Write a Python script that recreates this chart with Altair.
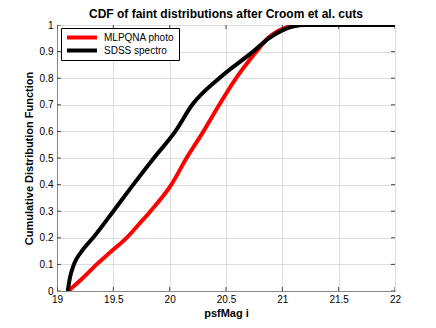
import altair as alt
import pandas as pd

sdss_mag = [19.095, 19.115, 19.15, 19.22, 19.32, 19.5, 19.677, 19.86,
            20.05, 20.2, 20.44, 20.74, 20.88, 21.0, 21.1, 21.2, 21.5, 22.0]
sdss_cdf = [0.0, 0.05, 0.10, 0.15, 0.20, 0.30, 0.40, 0.50,
            0.60, 0.70, 0.80, 0.90, 0.95, 0.98, 0.995, 1.0, 1.0, 1.0]

mlpqna_mag = [19.10, 19.22, 19.352, 19.485, 19.618, 19.725, 19.83, 20.015, 20.15, 20.3, 20.44,
              20.59, 20.77, 20.87, 20.95, 21.05, 21.15, 21.3, 22.0]
mlpqna_cdf = [0.0, 0.045, 0.10, 0.15, 0.20, 0.25, 0.30, 0.40, 0.50, 0.60, 0.70,
              0.80, 0.90, 0.95, 0.975, 0.993, 1.0, 1.0, 1.0]

series_names = ["MLPQNA photo", "SDSS spectro"]
series_colors = ["#ff0000", "#000000"]

x_ticks = [19, 19.5, 20, 20.5, 21, 21.5, 22]
y_ticks = [0, 0.1, 0.2, 0.3, 0.4, 0.5, 0.6, 0.7, 0.8, 0.9, 1]

df = pd.concat([
    pd.DataFrame({"mag": mlpqna_mag, "cdf": mlpqna_cdf, "series": series_names[0], "order": 0}),
    pd.DataFrame({"mag": sdss_mag, "cdf": sdss_cdf, "series": series_names[1], "order": 1}),
])

FONT = "Liberation Sans"

xscale = alt.Scale(domain=[19, 22], nice=False, zero=False)
yscale = alt.Scale(domain=[0, 1], nice=False)

xaxis = alt.Axis(values=x_ticks, title="psfMag i", format=".3~g",
                 tickSize=0, labelPadding=3, titlePadding=3, labelOverlap=False,
                 labelFlush=False)
yaxis = alt.Axis(values=y_ticks,
                 title="Cumulative Distribution Function", format=".3~g",
                 tickSize=0, labelPadding=4, titlePadding=5, labelOverlap=False,
                 labelFlush=False)

lines = alt.Chart(df).mark_line(strokeWidth=4, interpolate="monotone", clip=True).encode(
    x=alt.X("mag:Q", scale=xscale, axis=xaxis),
    y=alt.Y("cdf:Q", scale=yscale, axis=yaxis),
    color=alt.Color("series:N",
                    scale=alt.Scale(domain=series_names, range=series_colors),
                    legend=alt.Legend(title=None, orient="none", legendX=4, legendY=3,
                                      symbolType="stroke", symbolSize=900, symbolStrokeWidth=4,
                                      clipHeight=11,
                                      labelFontSize=10, labelFont=FONT, labelOffset=5,
                                      padding=4, rowPadding=2, strokeColor="black",
                                      fillColor="white", cornerRadius=0)),
    detail="series:N",
    order="order:Q",
)

tickdf_x = pd.DataFrame({"t": x_ticks})
tickdf_y = pd.DataFrame({"t": y_ticks})

def xtick(yval):
    return alt.Chart(tickdf_x).mark_tick(clip=True, size=8, thickness=1, color="black",
                                         orient="vertical").encode(
        x=alt.X("t:Q", scale=xscale, axis=xaxis),
        y=alt.Y(datum=yval, type="quantitative", scale=yscale, axis=yaxis))

def ytick(xval):
    return alt.Chart(tickdf_y).mark_tick(clip=True, size=8, thickness=1, color="black",
                                         orient="horizontal").encode(
        y=alt.Y("t:Q", scale=yscale, axis=yaxis),
        x=alt.X(datum=xval, type="quantitative", scale=xscale, axis=xaxis))

chart = alt.layer(lines, xtick(0), xtick(1), ytick(19), ytick(22)).properties(
    width=338, height=266,
    autosize=alt.AutoSizeParams(type="none"),
    padding={"left": 49, "top": 17, "right": 33, "bottom": 29},
    title=alt.Title("CDF of faint distributions after Croom et al. cuts",
                    font=FONT, fontSize=12, fontWeight="bold", color="black", offset=-1),
).configure_view(stroke="black", strokeWidth=1).configure_axis(
    labelFont=FONT, labelFontSize=11, labelColor="black",
    titleFont=FONT, titleFontSize=12, titleFontWeight="bold", titleColor="black",
    domain=False, grid=True, gridColor="#999999", gridDash=[1, 3], gridWidth=1,
).configure(background="white")

chart.save("out.html", embed_options={"renderer": "svg", "actions": False})
